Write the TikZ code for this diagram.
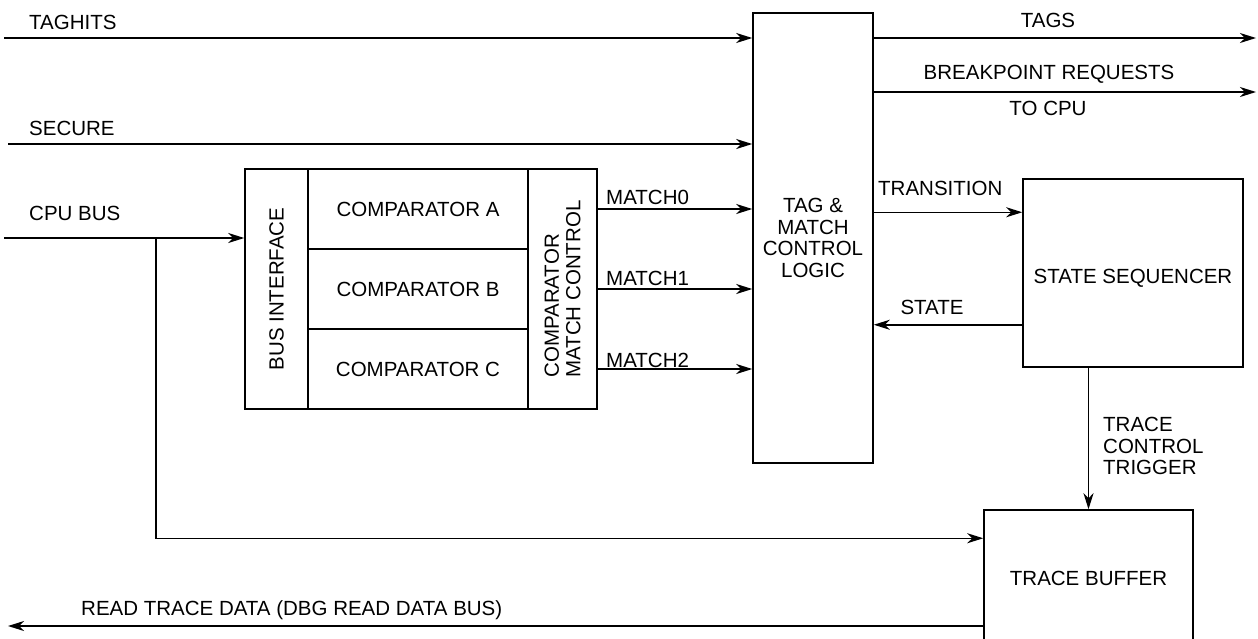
\documentclass[tikz,border=0pt]{standalone}
\usepackage{fontspec}
\setmainfont{Liberation Sans}
\usepackage{tikz}
\usetikzlibrary{shapes,arrows.meta}
\tikzstyle{block} = [rectangle, draw, line width=1.5pt, inner sep=0pt, text centered]
\tikzstyle{line} = [draw, line width=1.5pt, -{Stealth[length=16pt,width=10pt,inset=5pt]}]
\tikzstyle{lbl} = [inner sep=0pt, text height=14.5pt, text depth=0pt]

\begin{document}
\begin{tikzpicture}[x=1pt,y=-1pt,font=\fontsize{20.5}{21.5}\selectfont]
      \useasboundingbox (0,0) rectangle (1258,638);
      % blocks
      \node [block, minimum width=63pt, minimum height=240pt,
             label={[rotate=90]center:BUS INTERFACE}] (busif) at (276.5,289) {};
      \node [block, minimum width=220pt, minimum height=80pt] (compA) at (418,209) {COMPARATOR A};
      \node [block, minimum width=220pt, minimum height=80pt] (compB) at (418,289) {COMPARATOR B};
      \node [block, minimum width=220pt, minimum height=80pt] (compC) at (418,369) {COMPARATOR C};
      \node [block, minimum width=69pt, minimum height=240pt,
             label={[rotate=90,align=left]center:COMPARATOR\\MATCH CONTROL}] (cmc) at (562.5,289) {};
      \node [block, minimum width=120pt, minimum height=450pt, align=center] (tag) at (813,238)
            {TAG \&\\MATCH\\CONTROL\\LOGIC};
      \node [block, minimum width=220pt, minimum height=188pt,
             label={[yshift=-5pt]center:STATE SEQUENCER}] (stateseq) at (1133,273) {};
      \node [block, minimum width=209pt, minimum height=136pt] (tracebuf) at (1088.5,578) {TRACE BUFFER};

      % free ends
      \coordinate (taghits) at (4,38);
      \coordinate (secure) at (8,144);
      \coordinate (cpuin) at (4,238);
      \coordinate (tap) at (156,238);
      \coordinate (tagsout) at (1256,38);
      \coordinate (bpout) at (1256,92);
      \coordinate (readout) at (8,626);
      \coordinate (trin) at ([yshift=-34pt]stateseq.north west);
      \coordinate (stout) at ([yshift=43pt]stateseq.south west);
      \coordinate (tbin) at ([yshift=-29pt]tracebuf.north west);

      % labels
      \node [lbl, anchor=west] (taghitslbl) at (29,22) {TAGHITS};
      \node [lbl, anchor=west] (securelbl) at (29,128) {SECURE};
      \node [lbl, anchor=west] (cpubuslbl) at (29,213) {CPU BUS};
      \node [lbl, anchor=west] (match0lbl) at (606,197) {MATCH0};
      \node [lbl, anchor=west] (match1lbl) at (606,278) {MATCH1};
      \node [lbl, anchor=west] (match2lbl) at (606,360) {MATCH2};
      \node [lbl] (tagslbl) at (1048,20) {TAGS};
      \node [lbl] (bplbl) at (1049,72) {BREAKPOINT REQUESTS};
      \node [lbl] (tocpulbl) at (1048,108) {TO CPU};
      \node [lbl, anchor=west] (translbl) at (878,188) {TRANSITION};
      \node [lbl] (statelbl) at (932,307) {STATE};
      \node [inner sep=0pt, anchor=west, align=left] (triglbl) at (1103,446) {TRACE\\CONTROL\\TRIGGER};
      \node [lbl, anchor=west] (readlbl) at (81,608) {READ TRACE DATA (DBG READ DATA BUS)};

      % connectors
      \path [line] (taghits) -- (taghits -| tag.west);
      \path [line] (secure) -- (secure -| tag.west);
      \path [line] (cpuin) -- (cpuin -| busif.west);
      \path [line] (compA -| cmc.east) -- (compA -| tag.west);
      \path [line] (compB -| cmc.east) -- (compB -| tag.west);
      \path [line] (compC -| cmc.east) -- (compC -| tag.west);
      \path [line] (taghits -| tag.east) -- (tagsout);
      \path [line] (bpout -| tag.east) -- (bpout);
      \path [line] (trin -| tag.east) -- (trin);
      \path [line] (stout) -- (stout -| tag.east);
      \path [line] (tracebuf.north |- stateseq.south) -- (tracebuf.north);
      \path [line] (tap) |- (tbin);
      \path [line] (readout -| tracebuf.west) -- (readout);

    \end{tikzpicture}
\end{document}
